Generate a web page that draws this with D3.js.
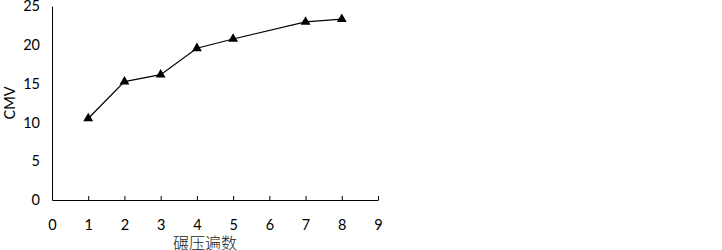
<!DOCTYPE html>
<html>
<head>
<meta charset="utf-8">
<script src="https://cdn.jsdelivr.net/npm/d3@7"></script>
<style>
  body { margin: 0; background: #fff; }
  svg text { font-family: Lato, "Open Sans", sans-serif; }
</style>
</head>
<body>
<div id="chart"></div>
<script>
// passes and CMV values
const passes = [1, 2, 3, 4, 5, 7, 8];
const cmv = [10.5, 15.25, 16.15, 19.55, 20.75, 22.95, 23.3];
const xTicks = [0, 1, 2, 3, 4, 5, 6, 7, 8, 9];
const yTicks = [0, 5, 10, 15, 20, 25];

const width = 722, height = 250;
const margin = { top: 6, left: 52, right: 344, bottom: 50 };
const innerW = width - margin.left - margin.right,
      innerH = height - margin.top - margin.bottom;

const x = d3.scaleLinear().domain([0, 9]).range([0, innerW]);
const y = d3.scaleLinear().domain([0, 25]).range([innerH, 0]);

const svg = d3.select("#chart").append("svg")
    .attr("width", width)
    .attr("height", height);

const g = svg.append("g")
    .attr("transform", `translate(${margin.left},${margin.top})`);

// x axis: ticks point up into the plot, labels set lower
const xAxis = g.append("g")
    .attr("transform", `translate(0,${innerH})`)
    .call(d3.axisBottom(x).tickValues(xTicks).tickSizeInner(-4).tickSizeOuter(0).tickPadding(20));
xAxis.select(".domain").attr("stroke", "#000");
xAxis.selectAll(".tick line").attr("stroke", "#000");
xAxis.selectAll("text").attr("font-size", 14.5).attr("fill", "#000");
xAxis.selectAll(".tick").filter(d => d === 0).select("line").remove();

const yAxis = g.append("g")
    .call(d3.axisLeft(y).tickValues(yTicks).tickSize(0).tickPadding(12));
yAxis.select(".domain").attr("stroke", "#000");
yAxis.selectAll("text").attr("font-size", 14.5).attr("fill", "#000");

const pts = passes.map((p, i) => [p, cmv[i]]);

g.append("path")
    .datum(pts)
    .attr("fill", "none")
    .attr("stroke", "#000")
    .attr("stroke-width", 1.2)
    .attr("d", d3.line().x(d => x(d[0])).y(d => y(d[1])));

g.selectAll(".pt")
    .data(pts)
    .enter()
    .append("path")
    .attr("class", "pt")
    .attr("transform", d => `translate(${x(d[0])},${y(d[1])})`)
    .attr("d", d3.symbol().type(d3.symbolTriangle).size(42))
    .attr("fill", "#000");

svg.append("text")
    .attr("transform", `translate(15,${margin.top + y(12.5)}) rotate(-90)`)
    .attr("text-anchor", "middle")
    .attr("font-size", 14.5)
    .text("CMV");

svg.append("text")
    .attr("x", 205)
    .attr("y", 249)
    .attr("text-anchor", "middle")
    .attr("font-size", 16)
    .attr("fill", "#222")
    .style("font-family", "'Noto Sans CJK SC', sans-serif")
    .style("font-weight", 300)
    .text("碾压遍数");
</script>
</body>
</html>
